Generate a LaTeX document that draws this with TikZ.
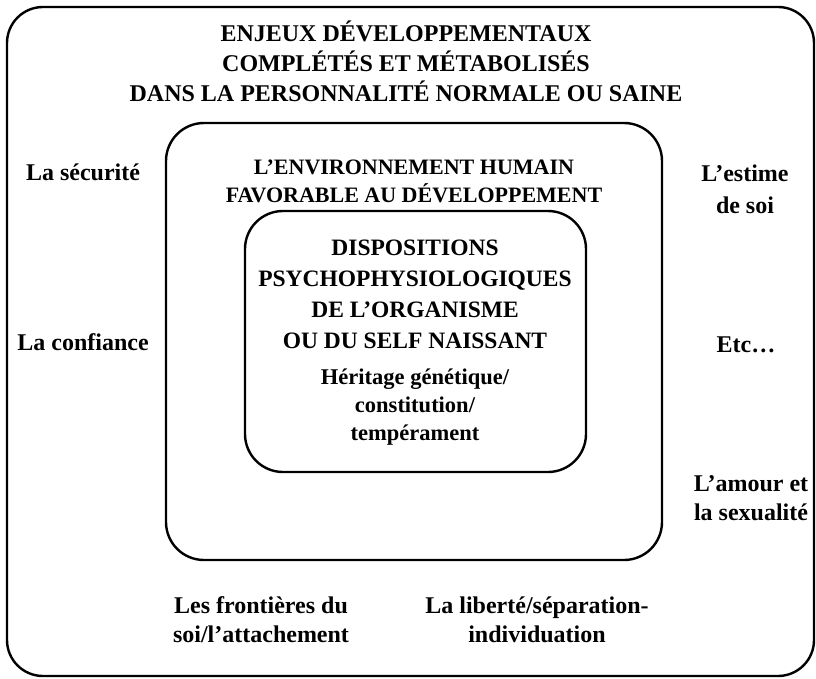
\documentclass[tikz,border=0pt]{standalone}
\usepackage{fontspec}
\setmainfont{Liberation Serif}
\usepackage{tikz}
\usetikzlibrary{positioning}

\begin{document}
\begin{tikzpicture}[
  x=1pt, y=-1pt,
  font=\bfseries,
  framebox/.style={draw=black, line width=2.4pt},
  headtxt/.style={align=center, inner sep=0pt, font=\bfseries\fontsize{24}{30}\selectfont},
  milieutxt/.style={align=center, inner sep=0pt, font=\bfseries\fontsize{22}{28}\selectfont},
  coretxt/.style={align=center, inner sep=0pt, font=\bfseries\fontsize{23.5}{31}\selectfont},
  basetxt/.style={align=center, inner sep=0pt, font=\bfseries\fontsize{22.5}{28}\selectfont},
  issuetxt/.style={align=center, inner sep=0pt, font=\bfseries\fontsize{24}{29}\selectfont}
]
  \useasboundingbox (0,0) rectangle (816,679);
  % three nested frames
  \draw[framebox, rounded corners=36pt] (7,7) rectangle (814,676);
  \draw[framebox, rounded corners=38pt] (166,123) rectangle (662,560);
  \draw[framebox, rounded corners=38pt] (245,211) rectangle (586,472);

  % headings
  \node[headtxt] (enjeux) at (406,61) {ENJEUX DÉVELOPPEMENTAUX\\COMPLÉTÉS ET MÉTABOLISÉS\\DANS LA PERSONNALITÉ NORMALE OU SAINE};
  \node[milieutxt] (milieu) at (414,181) {L’ENVIRONNEMENT HUMAIN\\FAVORABLE AU DÉVELOPPEMENT};
  \node[coretxt] (dispo) at (415,294) {DISPOSITIONS\\PSYCHOPHYSIOLOGIQUES\\DE L’ORGANISME\\OU DU SELF NAISSANT};
  \node[basetxt] (heritage) at (415,407) {Héritage génétique/\\constitution/\\tempérament};

  % developmental issues around the frame
  \node[issuetxt] (securite) at (83,172) {La sécurité};
  \node[issuetxt] (confiance) at (83,342) {La confiance};
  \node[issuetxt, font=\bfseries\fontsize{24}{32}\selectfont] (estime) at (745,189) {L’estime\\de soi};
  \node[issuetxt] (etc) at (746,345) {Etc…};
  \node[issuetxt] (amour) at (751,498) {L’amour et\\la sexualité};
  \node[issuetxt] (frontieres) at (261,620) {Les frontières du\\soi/l’attachement};
  \node[issuetxt] (liberte) at (537,620) {La liberté/séparation-\\individuation};
\end{tikzpicture}
\end{document}
